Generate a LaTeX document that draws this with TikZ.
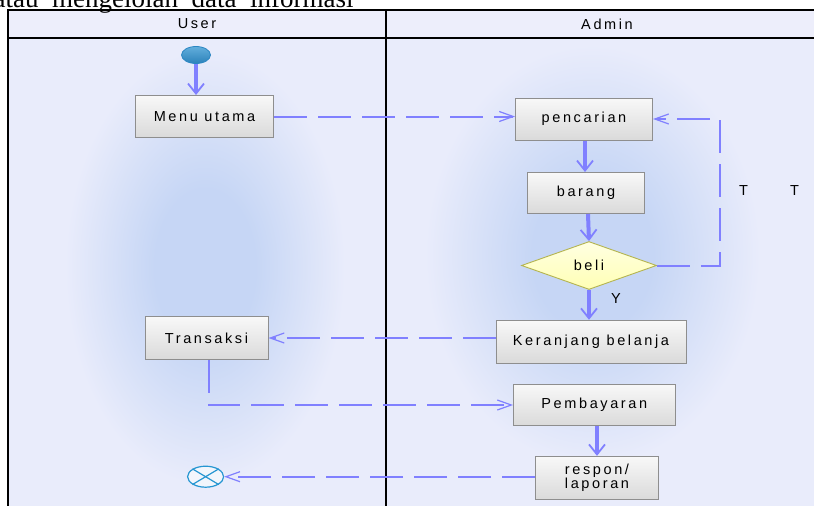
\documentclass[tikz,border=0pt]{standalone}
\usepackage{fontspec}
\setmainfont{Liberation Sans}
\newfontfamily\diafont[LetterSpace=18]{Liberation Sans}
\newfontfamily\serifhead{Liberation Serif}
\newcommand\captionfontx{\serifhead\fontsize{27}{30}\selectfont\spaceskip 13.5pt\relax}
\usetikzlibrary{arrows.meta,shapes.geometric,calc}
\definecolor{basec}{HTML}{E9ECFB}
\definecolor{headc}{HTML}{EDEEFB}
\definecolor{glowc}{HTML}{C6D6F5}
\definecolor{flowc}{HTML}{8080FF}
\definecolor{boxtop}{HTML}{F8F8F8}
\definecolor{boxbot}{HTML}{DADADA}
\definecolor{boxline}{HTML}{8E8E8E}
\definecolor{dtop}{HTML}{FFFFE2}
\definecolor{dbot}{HTML}{FFFFB4}
\definecolor{dline}{HTML}{B4B450}
\definecolor{sttop}{HTML}{62AEDC}
\definecolor{stbot}{HTML}{2C82BA}
\definecolor{stline}{HTML}{2A86C2}
\definecolor{endline}{HTML}{2696D2}
\definecolor{endfill}{HTML}{F2F6FC}
\pgfdeclareradialshading{laneglow}{\pgfpoint{0bp}{0bp}}{color(0bp)=(glowc); color(9bp)=(glowc); color(25bp)=(basec); color(50bp)=(basec)}
\tikzset{
  dtext/.style={font=\diafont\fontsize{14.5}{12.5}\selectfont, text=black},
  actbox/.style={dtext, draw=boxline, line width=1pt, top color=boxtop, bottom color=boxbot, inner sep=0pt, align=center},
  decis/.style={dtext, diamond, draw=dline, line width=0.9pt, top color=dtop, bottom color=dbot, inner sep=0pt, minimum width=135pt, minimum height=48pt, aspect=2.8},
  startnode/.style={ellipse, draw=stline, line width=0.8pt, top color=sttop, bottom color=stbot, minimum width=29pt, minimum height=17pt, inner sep=0pt},
  endnode/.style={ellipse, draw=endline, line width=1.2pt, fill=endfill, minimum width=36pt, minimum height=21pt, inner sep=0pt},
  flowsolid/.style={draw=flowc, line width=4pt, -{Straight Barb[length=10pt,width=16pt,line width=1.8pt]}},
  flowdash/.style={draw=flowc, line width=2pt, dash pattern=on 33pt off 11pt, -{Straight Barb[length=14pt,width=10pt,line width=1.2pt]}},
  lanetitle/.style={dtext, inner sep=0pt},
  lanerule/.style={draw=black, line width=1.4pt}
}
\begin{document}
\begin{tikzpicture}[x=1pt,y=-1pt]
\useasboundingbox (0,0) rectangle (814,506);
% background
\fill[white] (0,0) rectangle (814,506);
\fill[basec] (8,10) rectangle (830,520);
\shade[shading=laneglow] (65,50) rectangle (345,485);
\shade[shading=laneglow] (425,45) rectangle (760,465);
\fill[headc] (8,10) rectangle (830,38);
% lanes
\draw[lanerule] (830,10) -- (8,10) -- (8,520);
\draw[lanerule] (8,38) -- (830,38);
\draw[lanerule] (386,10) -- (386,520);
\node[lanetitle] (userlane) at (197,24) {User};
\node[lanetitle] (adminlane) at (607,24) {Admin};
% nodes
\node[startnode] (start) at (196,55) {};
\node[actbox, minimum width=138pt, minimum height=42pt] (menu) at (204.5,116.5) {Menu utama};
\node[actbox, minimum width=137pt, minimum height=42pt] (cari) at (584,119) {pencarian};
\node[actbox, minimum width=117pt, minimum height=41pt] (barang) at (586,193) {barang};
\node[decis] (beli) at (589,265.5) {beli};
\node[actbox, minimum width=190pt, minimum height=43pt] (keranjang) at (591,341.8) {Keranjang belanja};
\node[actbox, minimum width=123pt, minimum height=42.6pt] (transaksi) at (206.5,338) {Transaksi};
\node[actbox, minimum width=161.5pt, minimum height=41.4pt] (bayar) at (594.3,405) {Pembayaran};
\node[actbox, minimum width=122.6pt, minimum height=42.7pt] (respon) at (597,477.7) {respon/\\laporan};
\node[endnode] (end) at (205.6,476.7) {};
\draw[endline, line width=1.2pt] (end.north west) -- (end.south east);
\draw[endline, line width=1.2pt] (end.south west) -- (end.north east);
% labels
\node[dtext, inner sep=0pt] (ylab) at (616,299) {Y};
\node[dtext, inner sep=0pt] (tlab1) at (743.5,190.5) {T};
\node[dtext, inner sep=0pt] (tlab2) at (794.5,190.5) {T};
% connectors
\coordinate (loopc) at (720,0);
\draw[flowsolid] (start.south) -- (start.south |- menu.north);
\draw[flowdash] (menu.east) -- (menu.east -| cari.west);
\draw[flowsolid] ($(cari.south)+(1,0)$) -- ($(cari.south |- barang.north)+(1,0)$);
\draw[flowsolid] ($(barang.south)+(2,0)$) -- (beli.north);
\draw[flowdash] (beli.east) -- (beli.east -| loopc) -- (loopc |- cari.east) -- (cari.east);
\draw[flowsolid] (beli.south) -- (beli.south |- keranjang.north);
\draw[flowdash] (keranjang.west |- transaksi.east) -- (transaksi.east);
\draw[flowdash] ($(transaksi.south)+(2,0)$) |- (bayar.west);
\draw[flowsolid] (respon.north |- bayar.south) -- (respon.north);
\draw[flowdash] (respon.west |- end.east) -- (end.east);
% clipped caption text above the diagram
\node[anchor=base west, inner sep=0pt, font=\captionfontx] (caption) at (-6.5,8) {atau mengelolah data informasi};
\end{tikzpicture}
\end{document}
